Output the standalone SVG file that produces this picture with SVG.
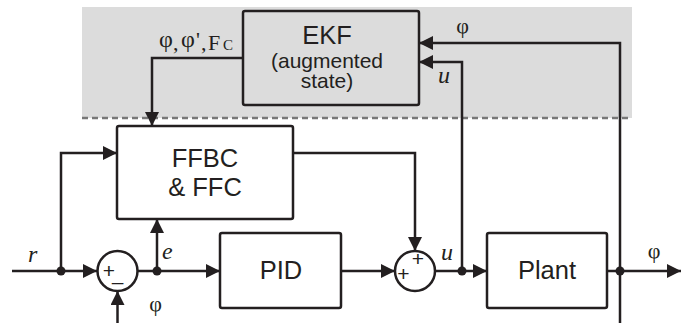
<svg xmlns="http://www.w3.org/2000/svg" width="681" height="323" viewBox="0 0 681 323">
<defs>
<marker id="ah" markerWidth="14" markerHeight="14" refX="14" refY="7" orient="auto" markerUnits="userSpaceOnUse">
<path d="M0,0 L14,7 L0,14 z" fill="#231f20"/>
</marker>
<style>
.ln{fill:none;stroke:#231f20;stroke-width:2.5;}
.ar{fill:none;stroke:#231f20;stroke-width:2.5;marker-end:url(#ah);}
.box{fill:#ffffff;stroke:#231f20;stroke-width:2.5;}
.big{font-family:"Liberation Sans",Arial,sans-serif;font-size:25.5px;fill:#231f20;text-anchor:middle;}
.mid{font-family:"Liberation Sans",Arial,sans-serif;font-size:21px;fill:#231f20;text-anchor:middle;}
.sgn{font-family:"Liberation Sans",Arial,sans-serif;font-size:21px;fill:#231f20;text-anchor:middle;}
.var{font-family:"Liberation Serif","Times New Roman",serif;font-size:24px;font-style:italic;fill:#231f20;}
.sym{font-family:"Liberation Serif","Times New Roman",serif;font-size:22px;fill:#231f20;}
.dot{fill:#231f20;}
</style>
</defs>
<rect x="82" y="7" width="550" height="111" fill="#dcdcdc"/>
<line x1="82" y1="118" x2="632" y2="118" stroke="#777777" stroke-width="2.5" stroke-dasharray="6 4"/>

<g id="connectors">
<path class="ar" d="M12,271 H97"/>
<path class="ar" d="M61,271 V153 H117"/>
<path class="ar" d="M137.5,271 H220"/>
<path class="ar" d="M157,271 V219"/>
<path class="ar" d="M117.5,323 V291"/>
<path class="ar" d="M341,271 H395"/>
<path class="ar" d="M293,153 H415 V251"/>
<path class="ar" d="M435,271 H487"/>
<path class="ar" d="M462,271 V62 H419"/>
<path class="ar" d="M607,271 H681"/>
<path class="ar" d="M620,323 V43 H419"/>
<path class="ar" d="M243,58 H152 V126"/>
<circle class="dot" cx="61" cy="271" r="4.5"/>
<circle class="dot" cx="157" cy="271" r="4.5"/>
<circle class="dot" cx="462" cy="271" r="4.5"/>
<circle class="dot" cx="620" cy="271" r="4.5"/>
<text class="var" x="28" y="262">r</text>
<text class="var" x="162" y="259">e</text>
<text class="var" x="441" y="260">u</text>
<text class="var" x="438" y="83">u</text>
<text class="sym" x="155.5" y="311" text-anchor="middle">φ</text>
<text class="sym" x="462.5" y="33" text-anchor="middle">φ</text>
<text class="sym" x="654" y="258" text-anchor="middle">φ</text>
<text class="sym"><tspan x="159" y="47" font-size="24">φ</tspan><tspan x="173" y="50">,</tspan><tspan x="181" y="47" font-size="24">φ</tspan><tspan x="196" y="47">'</tspan><tspan x="201" y="50">,</tspan><tspan x="208" y="50">F</tspan><tspan x="223" y="50" font-size="15">C</tspan></text>
</g>

<g id="ekf">
<rect x="243" y="11" width="176" height="94" rx="2" fill="none" stroke="#231f20" stroke-width="2.5"/>
<text class="big" x="327" y="44">EKF</text>
<text class="mid" x="327" y="68">(augmented</text>
<text class="mid" x="327" y="88">state)</text>
</g>

<g id="ffbc">
<rect class="box" x="117" y="126" width="176" height="93" rx="2"/>
<text class="big" x="205" y="167">FFBC</text>
<text class="big" x="205" y="196">&amp; FFC</text>
</g>

<g id="sum1">
<circle cx="117.5" cy="271" r="20" fill="#ffffff" stroke="#231f20" stroke-width="2.5"/>
<text class="sgn" x="109" y="277.5">+</text>
<text class="sgn" x="117.5" y="288.5">–</text>
</g>

<g id="pid">
<rect class="box" x="220" y="233" width="121" height="75" rx="2"/>
<text class="big" x="281" y="279">PID</text>
</g>

<g id="sum2">
<circle cx="415" cy="271" r="20" fill="#ffffff" stroke="#231f20" stroke-width="2.5"/>
<text class="sgn" x="418" y="265.5">+</text>
<text class="sgn" x="403.5" y="281">+</text>
</g>

<g id="plant">
<rect class="box" x="487" y="233" width="120" height="75" rx="2"/>
<text class="big" x="547" y="279">Plant</text>
</g>
</svg>
